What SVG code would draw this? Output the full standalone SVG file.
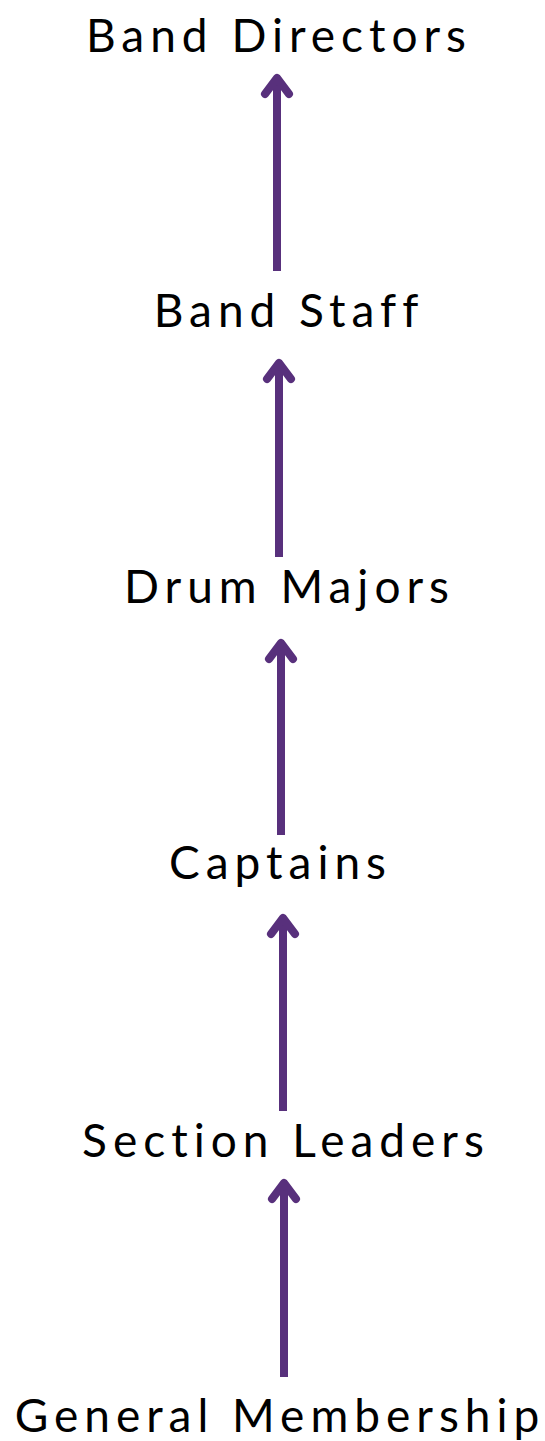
<svg xmlns="http://www.w3.org/2000/svg" width="545" height="1441" viewBox="0 0 545 1441">
<style>
.lbl{font-family:Lato,"Noto Sans",sans-serif;font-size:46px;fill:#000;text-anchor:middle;letter-spacing:6px}
.ln{stroke:#58307c;stroke-width:8;fill:none}
.hd{stroke:#58307c;stroke-width:8;fill:none;stroke-linecap:round;stroke-linejoin:round}
</style>
<rect width="545" height="1441" fill="#fff"/>
<g id="connectors">
<g><line class="ln" x1="277" y1="80" x2="277" y2="271"/><path class="hd" d="M265,94 L277,78 L289,94"/></g>
<g><line class="ln" x1="279" y1="365" x2="279" y2="557"/><path class="hd" d="M267,379 L279,363 L291,379"/></g>
<g><line class="ln" x1="281" y1="645" x2="281" y2="835"/><path class="hd" d="M269,659 L281,643 L293,659"/></g>
<g><line class="ln" x1="283" y1="920" x2="283" y2="1111"/><path class="hd" d="M271,934 L283,918 L295,934"/></g>
<g><line class="ln" x1="284" y1="1185" x2="284" y2="1377"/><path class="hd" d="M272,1199 L284,1183 L296,1199"/></g>
</g>
<g id="band-directors"><text class="lbl" x="279" y="52">Band Directors</text></g>
<g id="band-staff"><text class="lbl" x="289" y="327">Band Staff</text></g>
<g id="drum-majors"><text class="lbl" x="289.5" y="603">Drum Majors</text></g>
<g id="captains"><text class="lbl" x="280.5" y="879">Captains</text></g>
<g id="section-leaders"><text class="lbl" x="286" y="1157">Section Leaders</text></g>
<g id="general-membership"><text class="lbl" x="280" y="1432">General Membership</text></g>
</svg>
